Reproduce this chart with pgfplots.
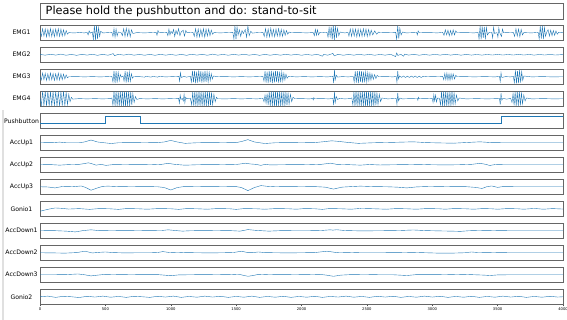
\documentclass[border=0pt]{standalone}
\usepackage{pgfplots}
\pgfplotsset{compat=1.18}
\usepackage{fontspec}
\setmainfont{DejaVu Sans}
\definecolor{c0}{HTML}{1F77B4}
\pgfplotsset{
  panel/.style={
    scale only axis, width=523pt, height=15.5pt,
    anchor=north west,
    xmin=0, xmax=4000,
    xtick=\empty, ytick=\empty,
    axis line style={draw=black!60, line width=0.8pt},
    cycle list={{c0, line width=0.95pt, line join=round, mark=none}},
  },
  emg/.style={panel, ymin=-1.05, ymax=1.05},
  acc/.style={panel, ymin=-1, ymax=1},
  gon/.style={panel, ymin=-0.5, ymax=0.5},
}
\newcommand{\lab}[2]{\node[font=\fontsize{6.15}{7}\selectfont, anchor=center] at (21.5pt,#1pt) {#2};}
\begin{document}
\begin{tikzpicture}
\useasboundingbox (0,0) rectangle (567pt,320pt);
\draw[black!12, line width=1.2pt] (3pt,0) -- (3pt,210pt);
% title box
\draw[black!60, line width=0.8pt] (40pt,300.5pt) rectangle (563pt,316.5pt);
\node[anchor=west, font=\fontsize{11.3}{13}\selectfont, inner sep=0pt] at (45.5pt,308.3pt) {Please hold the pushbutton and do: stand-to-sit};

% EMG1
\begin{axis}[emg, at={(40pt,295pt)}]
\addplot coordinates {(0,0.1)(10,-0.5)(20,0.55)(30,-0.45)(40,0.5)(50,-0.55)(60,0.45)(70,-0.5)(80,0.55)(90,-0.5)(100,0.45)(110,-0.55)(120,0.5)(130,-0.45)(140,0.55)(150,-0.5)(160,0.5)(170,-0.45)(180,0.4)(190,-0.4)(200,0.3)(210,-0.2)(220,0.02)(260,-0.03)(300,0.03)(340,-0.02)(360,0.05)(368,-0.3)(376,0.25)(384,-0.05)(400,0.1)(408,-0.9)(416,1.0)(424,-1.0)(432,0.95)(440,-0.85)(448,0.7)(456,-0.5)(464,0.2)(480,-0.03)(520,0.02)(550,0.05)(558,-0.5)(566,0.55)(574,-0.6)(582,0.5)(590,-0.45)(598,0.1)(620,0.02)(630,-0.4)(640,0.55)(650,-0.5)(660,0.6)(670,-0.45)(680,0.5)(690,-0.55)(700,0.4)(710,-0.1)(740,0.02)(800,-0.02)(860,0.03)(888,0.05)(895,-0.35)(902,0.3)(910,0)(940,0.02)(970,0.05)(978,-0.4)(986,0.5)(994,-0.3)(1002,0.2)(1012,-0.1)(1022,0.45)(1030,-0.5)(1040,0.3)(1050,-0.2)(1060,0.55)(1070,-0.4)(1080,0.1)(1095,0.35)(1105,-0.45)(1115,0.3)(1125,0)(1150,0.03)(1170,0.05)(1180,-0.5)(1190,0.55)(1200,-0.6)(1210,0.5)(1220,-0.55)(1230,0.45)(1240,-0.5)(1250,0.55)(1260,-0.6)(1270,0.5)(1280,-0.45)(1290,0.5)(1300,-0.4)(1310,0.35)(1320,-0.2)(1330,0.02)(1380,-0.02)(1440,0.03)(1475,0.05)(1483,-0.85)(1491,0.95)(1499,-0.9)(1507,0.8)(1515,-0.3)(1525,0.4)(1535,-0.5)(1545,0.3)(1555,-0.1)(1570,0.45)(1580,-0.6)(1590,0.9)(1600,-0.4)(1612,0.2)(1625,-0.05)(1660,0.02)(1705,0.05)(1715,-0.5)(1725,0.55)(1735,-0.6)(1745,0.5)(1755,-0.55)(1765,0.6)(1775,-0.5)(1785,0.45)(1795,-0.55)(1805,0.5)(1815,-0.45)(1825,0.55)(1835,-0.5)(1845,0.45)(1855,-0.5)(1865,0.4)(1875,-0.35)(1885,0.3)(1895,-0.2)(1905,0.1)(1920,0)(1980,0.02)(2040,-0.02)(2090,0.03)(2098,-0.4)(2106,0.45)(2114,-0.35)(2122,0.4)(2130,-0.3)(2140,0.05)(2170,0.02)(2195,0.05)(2203,-0.6)(2211,0.7)(2219,-0.5)(2227,0.8)(2235,-0.9)(2243,1.0)(2251,-1.0)(2259,0.9)(2267,-0.7)(2275,0.6)(2285,-0.4)(2295,0.1)(2330,-0.03)(2355,0.05)(2363,-0.45)(2373,0.5)(2383,-0.5)(2393,0.55)(2403,-0.45)(2413,0.5)(2423,-0.55)(2433,0.5)(2443,-0.5)(2453,0.45)(2463,-0.5)(2473,0.55)(2483,-0.45)(2493,0.5)(2503,-0.5)(2513,0.45)(2523,-0.4)(2533,0.35)(2545,-0.3)(2560,0.25)(2575,-0.2)(2590,0.1)(2600,0)(2660,0.02)(2720,0.05)(2728,-0.9)(2736,0.95)(2744,-0.8)(2752,0.6)(2762,-0.3)(2772,0.1)(2800,-0.02)(2860,0.02)(2880,0.04)(2886,-0.3)(2892,0.25)(2900,0)(2980,0.02)(3040,-0.02)(3080,0.05)(3090,-0.35)(3100,0.4)(3110,-0.3)(3120,0.35)(3130,-0.4)(3140,0.3)(3150,-0.35)(3160,0.4)(3170,-0.3)(3180,0.25)(3190,0)(3260,0.02)(3320,-0.02)(3350,0.05)(3358,-0.85)(3366,0.9)(3374,-0.9)(3382,0.85)(3390,-0.7)(3398,0.8)(3406,-0.9)(3414,0.7)(3422,-0.3)(3435,0.05)(3455,0.02)(3462,-0.7)(3469,0.75)(3476,-0.1)(3495,0.02)(3502,-0.6)(3509,0.65)(3516,0)(3530,-0.5)(3537,0.5)(3545,0)(3580,0.02)(3620,0.05)(3630,-0.5)(3640,0.55)(3650,-0.45)(3660,0.5)(3670,-0.55)(3680,0.45)(3690,-0.3)(3700,0.02)(3760,-0.02)(3810,0.05)(3818,-0.85)(3826,0.9)(3834,-0.8)(3842,0.95)(3850,-0.85)(3858,0.7)(3866,-0.5)(3876,0.1)(3886,0.4)(3896,-0.45)(3906,0.35)(3916,-0.4)(3926,0.3)(3936,-0.35)(3946,0.25)(3956,-0.2)(3966,0.05)(4000,0)};
\end{axis}
\lab{287.25}{EMG1}

% EMG2
\begin{axis}[emg, at={(40pt,273pt)}]
\addplot coordinates {(0,0.05)(40,-0.06)(80,0.07)(120,-0.05)(160,0.08)(200,-0.07)(240,0.05)(280,-0.08)(320,0.06)(360,-0.05)(400,0.07)(440,-0.08)(480,0.06)(520,-0.07)(560,0.15)(570,-0.12)(600,0.06)(640,-0.05)(680,0.08)(720,-0.06)(760,0.05)(800,-0.07)(840,0.06)(880,-0.08)(920,0.07)(960,-0.06)(1000,0.05)(1040,-0.07)(1080,0.06)(1120,-0.08)(1160,0.07)(1200,-0.05)(1240,0.06)(1280,-0.07)(1320,0.08)(1360,-0.06)(1400,0.05)(1440,-0.07)(1480,0.06)(1520,-0.05)(1560,0.07)(1600,-0.06)(1640,0.05)(1680,-0.08)(1720,0.06)(1760,-0.07)(1800,0.05)(1840,-0.06)(1880,0.07)(1920,-0.05)(1960,0.06)(2000,-0.07)(2040,0.05)(2080,-0.06)(2120,0.07)(2160,-0.2)(2170,0.05)(2200,-0.06)(2240,0.18)(2250,-0.15)(2280,0.06)(2320,-0.07)(2360,0.05)(2400,-0.06)(2440,0.07)(2480,-0.05)(2520,0.06)(2560,-0.07)(2600,0.05)(2640,-0.06)(2680,0.07)(2720,-0.25)(2728,0.25)(2736,-0.1)(2760,0.06)(2780,-0.2)(2790,0.08)(2820,-0.05)(2860,0.06)(2900,-0.07)(2940,0.05)(2980,-0.06)(3020,0.07)(3060,-0.05)(3100,0.06)(3140,-0.05)(3180,0.05)(3220,-0.06)(3260,0.05)(3300,-0.05)(3340,0.04)(3380,-0.05)(3420,0.04)(3460,-0.04)(3500,0.05)(3540,-0.04)(3580,0.04)(3620,-0.04)(3660,0.05)(3700,-0.04)(3740,0.04)(3780,-0.05)(3820,0.04)(3860,-0.04)(3900,0.05)(3940,-0.04)(4000,0.03)};
\end{axis}
\lab{265.25}{EMG2}

% EMG3
\begin{axis}[emg, at={(40pt,251pt)}]
\addplot coordinates {(0,0.05)(10,-0.45)(20,0.5)(30,-0.4)(40,0.45)(50,-0.5)(60,0.4)(70,-0.45)(80,0.5)(90,-0.4)(100,0.45)(110,-0.5)(120,0.4)(130,-0.45)(140,0.5)(150,-0.45)(160,0.4)(170,-0.4)(180,0.35)(190,-0.3)(200,0.25)(210,-0.15)(220,0)(280,0.02)(340,-0.02)(400,0.02)(460,-0.02)(520,0.02)(550,0.05)(558,-0.7)(566,0.8)(574,-0.85)(582,0.75)(590,-0.8)(598,0.6)(606,-0.5)(614,0.3)(622,-0.05)(635,0.1)(643,-0.6)(651,0.75)(659,-0.8)(667,0.7)(675,-0.75)(683,0.65)(691,-0.6)(699,0.4)(707,-0.2)(715,0)(760,0.02)(800,-0.05)(810,0.05)(850,-0.05)(860,0.05)(900,-0.05)(910,0.05)(960,-0.02)(1020,0.02)(1062,0.05)(1068,-0.6)(1074,0.55)(1080,-0.1)(1100,0.05)(1120,-0.05)(1150,0.05)(1158,-0.7)(1166,0.8)(1174,-0.75)(1182,0.8)(1190,-0.85)(1198,0.7)(1206,-0.8)(1214,0.85)(1222,-0.7)(1230,0.75)(1238,-0.8)(1246,0.7)(1254,-0.75)(1262,0.8)(1270,-0.7)(1278,0.65)(1286,-0.7)(1294,0.6)(1302,-0.5)(1310,0.4)(1318,-0.3)(1326,0.1)(1360,0)(1420,0.02)(1480,-0.02)(1540,0.02)(1600,-0.02)(1660,0.02)(1705,0.05)(1713,-0.6)(1721,0.75)(1729,-0.8)(1737,0.7)(1745,-0.85)(1753,0.8)(1761,-0.75)(1769,0.8)(1777,-0.85)(1785,0.7)(1793,-0.75)(1801,0.8)(1809,-0.7)(1817,0.75)(1825,-0.8)(1833,0.7)(1841,-0.75)(1849,0.65)(1857,-0.6)(1865,0.5)(1873,-0.45)(1881,0.35)(1890,-0.2)(1900,0.05)(1960,-0.02)(2020,0.02)(2080,-0.02)(2140,0.02)(2200,-0.02)(2240,0.05)(2246,-0.85)(2252,0.9)(2258,-0.4)(2266,0.2)(2276,-0.05)(2310,0.02)(2360,-0.02)(2395,0.05)(2403,-0.7)(2411,0.75)(2419,-0.8)(2427,0.75)(2435,-0.85)(2443,0.8)(2451,-0.7)(2459,0.75)(2467,-0.8)(2475,0.7)(2483,-0.75)(2491,0.65)(2499,-0.7)(2507,0.6)(2515,-0.55)(2523,0.5)(2531,-0.45)(2539,0.4)(2549,-0.35)(2559,0.3)(2569,-0.25)(2579,0.2)(2590,0)(2650,0.02)(2700,-0.02)(2724,0.05)(2730,-0.75)(2736,0.8)(2742,-0.3)(2750,0.1)(2765,-0.08)(2780,0.1)(2795,-0.1)(2810,0.08)(2825,-0.1)(2840,0.1)(2855,-0.08)(2870,0.1)(2885,-0.1)(2900,0.08)(2915,-0.1)(2930,0.05)(2960,0)(3020,0.02)(3080,0.05)(3088,-0.4)(3096,0.45)(3104,-0.4)(3112,0.5)(3120,-0.45)(3128,0.4)(3136,-0.45)(3144,0.4)(3152,-0.35)(3160,0.4)(3170,-0.3)(3180,0.2)(3190,0)(3250,0.02)(3320,-0.02)(3400,0.02)(3480,-0.02)(3514,0.05)(3520,-0.65)(3526,0.55)(3532,-0.1)(3560,0.02)(3600,-0.02)(3620,0.05)(3628,-0.8)(3636,0.85)(3644,-0.9)(3652,0.8)(3660,-0.85)(3668,0.9)(3676,-0.8)(3684,0.7)(3692,-0.5)(3700,0.1)(3760,-0.02)(3840,0.02)(3920,-0.02)(4000,0)};
\end{axis}
\lab{243.25}{EMG3}

% EMG4
\begin{axis}[emg, at={(40pt,229pt)}]
\addplot coordinates {(0,0.1)(10,-0.95)(20,1.0)(30,-0.95)(40,1.0)(50,-0.95)(60,1.0)(70,-1.0)(80,0.95)(90,-1.0)(100,1.0)(110,-0.95)(120,1.0)(130,-1.0)(140,0.95)(150,-1.0)(160,1.0)(170,-0.95)(180,1.0)(190,-0.95)(200,0.9)(210,-0.8)(220,0.6)(230,-0.4)(240,0.2)(250,-0.05)(300,0.02)(360,-0.02)(420,0.02)(480,-0.02)(540,0.02)(550,0.1)(558,-0.9)(566,1.0)(574,-0.95)(582,1.0)(590,-1.0)(598,0.95)(606,-1.0)(614,1.0)(622,-0.95)(630,1.0)(638,-1.0)(646,0.95)(654,-1.0)(662,1.0)(670,-0.95)(678,1.0)(686,-0.95)(694,0.9)(702,-0.85)(710,0.7)(720,-0.5)(730,0.3)(740,-0.1)(760,0.02)(820,-0.02)(880,0.02)(940,-0.02)(1000,0.02)(1060,0.05)(1066,-0.6)(1072,0.5)(1078,-0.1)(1088,0.05)(1096,-0.3)(1102,0.6)(1108,-0.55)(1114,0.2)(1122,0)(1150,0.05)(1160,-0.8)(1168,0.9)(1176,-0.95)(1184,1.0)(1192,-1.0)(1200,0.95)(1208,-1.0)(1216,1.0)(1224,-0.95)(1232,1.0)(1240,-1.0)(1248,0.95)(1256,-1.0)(1264,1.0)(1272,-0.95)(1280,1.0)(1288,-0.95)(1296,0.9)(1304,-0.9)(1312,0.85)(1320,-0.8)(1330,0.6)(1340,-0.4)(1350,0.2)(1360,0)(1420,-0.02)(1480,0.02)(1540,-0.02)(1600,0.02)(1660,-0.02)(1705,0.05)(1713,-0.4)(1721,0.5)(1729,-0.6)(1737,0.7)(1745,-0.85)(1753,0.95)(1761,-1.0)(1769,1.0)(1777,-0.95)(1785,1.0)(1793,-1.0)(1801,0.95)(1809,-1.0)(1817,1.0)(1825,-0.95)(1833,1.0)(1841,-1.0)(1849,0.95)(1857,-1.0)(1865,1.0)(1873,-0.95)(1881,0.9)(1889,-0.9)(1897,0.85)(1905,-0.75)(1915,0.6)(1925,-0.4)(1935,0.2)(1950,0)(2000,0.02)(2060,-0.02)(2086,0.03)(2090,-0.15)(2094,0.15)(2100,0)(2160,0.02)(2210,-0.02)(2240,0.05)(2246,-0.85)(2252,0.9)(2258,-0.5)(2266,0.3)(2276,-0.1)(2290,0.05)(2330,-0.02)(2370,0.02)(2385,0.1)(2393,-0.85)(2401,0.95)(2409,-1.0)(2417,1.0)(2425,-0.95)(2433,1.0)(2441,-1.0)(2449,0.95)(2457,-1.0)(2465,1.0)(2473,-0.95)(2481,1.0)(2489,-1.0)(2497,0.95)(2505,-1.0)(2513,1.0)(2521,-0.95)(2529,1.0)(2537,-1.0)(2545,0.95)(2553,-1.0)(2561,0.95)(2569,-0.9)(2577,0.85)(2585,-0.8)(2595,0.6)(2605,-0.4)(2615,0.1)(2660,-0.02)(2700,0.02)(2724,0.05)(2730,-0.75)(2736,0.8)(2742,-0.3)(2752,0.1)(2770,-0.02)(2830,0.02)(2886,0.03)(2890,-0.2)(2894,0.2)(2900,0)(2960,0.02)(3000,0.05)(3006,-0.5)(3012,0.55)(3018,-0.3)(3026,0.5)(3032,-0.45)(3040,0.1)(3055,0.05)(3063,-0.85)(3071,0.95)(3079,-1.0)(3087,1.0)(3095,-0.95)(3103,1.0)(3111,-1.0)(3119,0.95)(3127,-1.0)(3135,1.0)(3143,-0.95)(3151,1.0)(3159,-0.9)(3167,0.85)(3175,-0.7)(3185,0.5)(3195,-0.3)(3205,0.1)(3260,-0.02)(3340,0.02)(3420,-0.02)(3500,0.02)(3514,0.05)(3520,-0.8)(3526,0.75)(3532,-0.2)(3540,0.05)(3570,-0.05)(3600,0.05)(3610,-0.5)(3618,0.7)(3626,-0.9)(3634,0.95)(3642,-1.0)(3650,1.0)(3658,-0.95)(3666,1.0)(3674,-0.9)(3682,0.85)(3690,-0.7)(3700,0.5)(3710,-0.3)(3720,0.1)(3760,-0.02)(3850,0.02)(3930,-0.02)(4000,0)};
\end{axis}
\lab{221.25}{EMG4}

% Pushbutton
\begin{axis}[panel, ymin=-0.65, ymax=1.4, at={(40pt,207pt)}]
\addplot coordinates {(0,0)(500,0)(500,1)(765,1)(765,0)(3525,0)(3525,1)(4000,1)};
\end{axis}
\lab{199.25}{Pushbutton}

% AccUp1
\begin{axis}[acc, at={(40pt,185pt)}]
\addplot coordinates {(0,0)(100,0.02)(150,0.08)(200,0)(300,0)(340,0.1)(390,0.35)(440,0.1)(500,-0.02)(545,-0.1)(600,0)(700,0.02)(800,0)(900,0.02)(950,0.1)(1000,0.3)(1050,0.1)(1110,-0.08)(1200,0)(1300,0.02)(1400,0)(1500,0.02)(1540,0.15)(1590,0.4)(1640,0.1)(1720,-0.1)(1800,0)(1900,0.02)(2000,0)(2100,0.02)(2180,0.15)(2230,0.25)(2280,0.18)(2350,0.05)(2435,-0.08)(2550,0)(2700,0.05)(2855,0.12)(2950,0.02)(3050,-0.02)(3160,-0.06)(3250,0.02)(3365,0.12)(3450,0.02)(3550,0)(3700,0)(4000,0)};
\end{axis}
\lab{177.25}{AccUp1}

% AccUp2
\begin{axis}[acc, at={(40pt,163pt)}]
\addplot coordinates {(0,0)(80,0.02)(150,-0.05)(220,0.02)(300,0.05)(340,0.15)(370,0.25)(400,0.12)(430,-0.05)(465,0.05)(505,-0.08)(560,0.02)(650,0)(750,0.02)(850,0)(930,0.05)(980,0.18)(1030,0.05)(1110,-0.06)(1200,0)(1300,0.02)(1400,0)(1500,0.03)(1540,0.12)(1570,0.2)(1610,0.1)(1650,0.05)(1690,-0.08)(1720,0.05)(1760,-0.02)(1850,0)(1950,0.02)(2050,0)(2150,0.05)(2220,0.2)(2270,0.05)(2350,0.02)(2450,-0.05)(2520,0.03)(2600,-0.03)(2700,0)(2800,0.02)(2900,0.05)(3000,0)(3100,-0.02)(3200,0)(3300,0.05)(3365,0.18)(3410,0.05)(3440,-0.1)(3480,0.03)(3550,0)(3700,0)(4000,0)};
\end{axis}
\lab{155.25}{AccUp2}

% AccUp3
\begin{axis}[acc, at={(40pt,141pt)}]
\addplot coordinates {(0,0)(60,-0.03)(115,-0.15)(170,0.03)(250,0)(315,0.1)(350,-0.1)(390,-0.45)(440,-0.15)(480,0.05)(520,0.08)(600,0.02)(700,0)(800,0.02)(900,0)(950,-0.1)(1000,-0.42)(1050,-0.1)(1100,0.02)(1200,0)(1300,0.02)(1400,0)(1500,0.02)(1540,-0.1)(1590,-0.5)(1640,-0.1)(1690,0.15)(1740,0.05)(1800,0)(1900,0.02)(2000,0)(2100,0.02)(2180,-0.05)(2245,-0.3)(2310,-0.05)(2380,0.02)(2450,0.08)(2550,0.02)(2650,0)(2730,-0.05)(2805,-0.15)(2880,-0.02)(2950,0.02)(3050,0.05)(3150,0.02)(3250,0.02)(3330,-0.08)(3380,-0.22)(3420,0.02)(3455,0.1)(3500,-0.08)(3540,0.02)(3650,0)(4000,0)};
\end{axis}
\lab{133.25}{AccUp3}

% Gonio1
\begin{axis}[gon, at={(40pt,119pt)}]
\addplot coordinates {(0,-0.16)(30,-0.1)(70,-0.02)(115,0.05)(160,0.03)(220,-0.02)(300,0.01)(380,-0.04)(450,0.01)(530,0)(600,-0.04)(660,0.01)(750,0)(820,-0.03)(900,0.01)(1000,0)(1060,-0.04)(1120,0.01)(1200,0)(1280,-0.03)(1350,0.01)(1450,0)(1500,-0.04)(1560,0.01)(1650,0)(1720,-0.03)(1800,0.01)(1900,0)(1960,-0.03)(2020,0.01)(2100,0)(2160,-0.04)(2210,0.01)(2300,0)(2380,-0.03)(2450,0.02)(2550,0)(2650,-0.03)(2720,0.01)(2800,0)(2880,-0.03)(2950,0.01)(3050,0)(3100,-0.03)(3160,0.01)(3250,0)(3320,-0.03)(3380,0.01)(3450,0)(3500,-0.03)(3570,0.01)(3650,0)(3700,-0.03)(3780,0.02)(3850,-0.03)(3920,0.01)(4000,-0.02)};
\end{axis}
\lab{111.25}{Gonio1}

% AccDown1
\begin{axis}[acc, at={(40pt,97pt)}]
\addplot coordinates {(0,0)(100,0.02)(200,-0.05)(270,-0.15)(330,0.02)(390,0.12)(450,0.02)(550,0)(650,0.02)(750,0)(850,0.02)(930,0.03)(980,0.12)(1040,0.02)(1090,-0.05)(1150,0)(1250,0.02)(1350,0)(1450,0.02)(1530,-0.05)(1590,0.15)(1650,0.05)(1750,-0.05)(1850,0.02)(1950,0)(2050,0)(2150,0.03)(2220,0.12)(2240,0.08)(2270,0.13)(2330,0.03)(2450,-0.02)(2600,0)(2750,0.03)(2855,0.1)(2950,0.02)(3050,-0.02)(3150,-0.05)(3215,-0.08)(3280,0)(3350,0.03)(3420,0.05)(3500,0.02)(3600,0)(4000,0)};
\end{axis}
\lab{89.25}{AccDown1}

% AccDown2
\begin{axis}[acc, at={(40pt,75pt)}]
\addplot coordinates {(0,0)(100,-0.02)(190,-0.05)(280,0.02)(345,0.2)(400,-0.03)(450,0.05)(500,0.1)(560,0.02)(650,-0.02)(750,0)(850,0)(900,0.03)(940,0.15)(990,0.03)(1055,0.07)(1110,0.02)(1200,0)(1300,-0.02)(1400,0)(1480,0.03)(1540,0.2)(1590,0.02)(1630,0.02)(1670,0.1)(1720,0.02)(1800,0)(1900,-0.02)(2000,0)(2100,0.02)(2195,0.2)(2270,0.02)(2350,0.05)(2450,0)(2600,0)(2750,0.02)(2850,0.05)(2950,0)(3050,-0.05)(3150,-0.05)(3250,0)(3300,0.1)(3350,0.03)(3420,0.05)(3500,0.02)(3600,0)(4000,0)};
\end{axis}
\lab{67.25}{AccDown2}

% AccDown3
\begin{axis}[acc, at={(40pt,53pt)}]
\addplot coordinates {(0,0)(100,0)(200,0.02)(290,0.1)(340,0)(390,-0.15)(440,-0.05)(500,0.05)(600,0.02)(700,0)(800,0.02)(900,0.02)(950,-0.05)(1000,-0.12)(1060,-0.02)(1150,0)(1250,0.02)(1350,0)(1450,0.02)(1515,0.07)(1550,-0.05)(1590,-0.2)(1630,-0.1)(1670,0.05)(1750,0)(1850,0.02)(1950,0)(2050,0.02)(2140,0.05)(2190,-0.05)(2245,-0.2)(2300,-0.05)(2380,0.02)(2500,0.03)(2600,0)(2700,0)(2805,-0.1)(2880,0.02)(3000,0.02)(3100,0)(3240,0.05)(3320,0)(3400,-0.05)(3440,-0.1)(3500,-0.02)(3600,0)(4000,0)};
\end{axis}
\lab{45.25}{AccDown3}

% Gonio2
\begin{axis}[gon, at={(40pt,31pt)},
  xtick={0,500,...,4000}, xtick pos=bottom, tick align=outside,
  major tick length=2pt, tick style={black!70, line width=0.5pt},
  xticklabel style={font=\fontsize{3.7}{4}\selectfont, inner sep=1pt},
  /pgf/number format/assume math mode=true, /pgf/number format/1000 sep={}]
\addplot coordinates {(0,0)(60,0.04)(120,-0.04)(180,0.03)(240,0)(300,-0.05)(360,0.03)(420,-0.02)(480,0.04)(540,-0.03)(600,0.02)(660,-0.04)(720,0.03)(780,0)(840,-0.04)(900,0.03)(960,-0.02)(1020,0.04)(1080,-0.04)(1140,0.02)(1200,-0.03)(1260,0.04)(1320,-0.02)(1380,0.03)(1440,-0.04)(1500,0.02)(1560,-0.03)(1620,0.04)(1680,-0.04)(1740,0.02)(1800,-0.03)(1860,0.03)(1920,-0.04)(1980,0.02)(2040,-0.03)(2100,0.03)(2160,-0.04)(2220,0.02)(2280,-0.02)(2340,0.04)(2400,-0.03)(2460,0.02)(2520,-0.04)(2580,0.03)(2640,-0.02)(2700,0.03)(2760,-0.04)(2820,0.02)(2880,-0.03)(2940,0.04)(3000,-0.02)(3060,0.03)(3120,-0.04)(3180,0.02)(3240,-0.03)(3300,0.03)(3360,-0.04)(3420,0.02)(3480,-0.03)(3540,0.04)(3600,-0.02)(3660,0.03)(3720,-0.04)(3780,0.02)(3840,-0.03)(3900,0.03)(3960,-0.02)(4000,0)};
\end{axis}
\lab{23.25}{Gonio2}
\end{tikzpicture}
\end{document}
